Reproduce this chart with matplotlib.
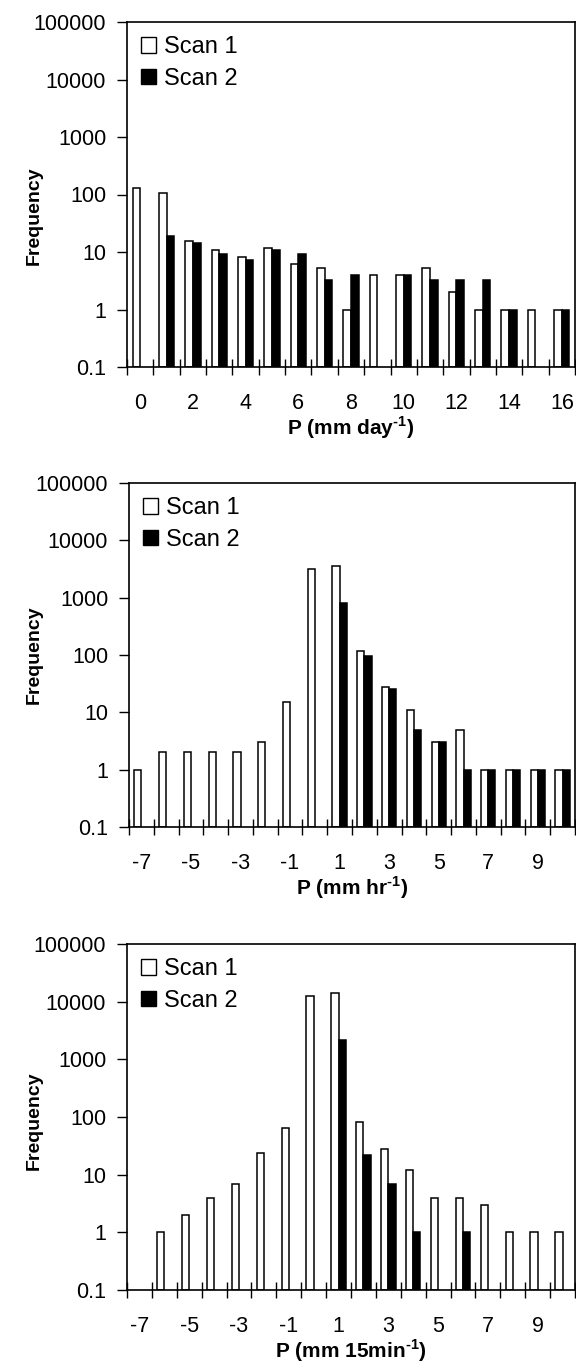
"""
Histograms of rain-rate differences for two scans, three accumulation periods.
Log-scale frequency, Excel-style category axis.
"""
import numpy as np
import matplotlib
matplotlib.use("Agg")
import matplotlib.pyplot as plt
from matplotlib.patches import Patch

plt.rcParams["font.family"] = ["Liberation Sans", "DejaVu Sans"]
plt.rcParams["mathtext.fontset"] = "custom"
plt.rcParams["mathtext.rm"] = "Liberation Sans:bold"
plt.rcParams["mathtext.bf"] = "Liberation Sans:bold"

# panel 1: daily
DAY_CATS = list(range(0, 17))
DAY_SCAN1 = [130, 107, 15.4, 11, 8.2, 11.6, 6.1, 5.3, 1, 4, 4, 5.3, 2, 1, 1, 1, 1]
DAY_SCAN2 = [0, 19, 14.5, 9.4, 7.2, 11, 9.4, 3.2, 4, 0, 4, 3.2, 3.2, 3.2, 1, 0, 1]
DAY_LABELS = ["0", "2", "4", "6", "8", "10", "12", "14", "16"]

# panel 2: hourly
HR_CATS = list(range(-7, 11))
HR_SCAN1 = [1, 2, 2, 2, 2, 3, 15.4, 3180, 3630, 117, 28, 10.8, 3, 5, 1, 1, 1, 1]
HR_SCAN2 = [0, 0, 0, 0, 0, 0, 0, 0, 820, 95, 26, 5, 3, 1, 1, 1, 1, 1]
HR_LABELS = ["-7", "-5", "-3", "-1", "1", "3", "5", "7", "9"]

# panel 3: 15 min
MIN_CATS = list(range(-7, 11))
MIN_SCAN1 = [0, 1, 2, 4, 7, 23.5, 65, 12400, 14200, 81, 27.6, 12, 4, 4, 3, 1, 1, 1]
MIN_SCAN2 = [0, 0, 0, 0, 0, 0, 0, 0, 2130, 22, 7, 1, 0, 1, 0, 0, 0, 0]
MIN_LABELS = ["-7", "-5", "-3", "-1", "1", "3", "5", "7", "9"]

YTICKS = [0.1, 1, 10, 100, 1000, 10000, 100000]
BASE = 0.1
W = 0.29
FIG_W, FIG_H = 576, 1369


def panel(fig, rect_px, cats, s1, s2, labels, xlabel, ylab_y):
    l, t, r, b = rect_px
    ax = fig.add_axes([l / FIG_W, 1 - b / FIG_H, (r - l) / FIG_W, (b - t) / FIG_H])
    x = np.arange(len(cats))
    s1 = np.array(s1, dtype=float)
    s2 = np.array(s2, dtype=float)
    m1 = s1 > 0
    m2 = s2 > 0
    ax.bar(x[m1] - W / 2, s1[m1] - BASE, width=W, bottom=BASE, color="white",
           edgecolor="black", linewidth=1.1)
    ax.bar(x[m2] + W / 2, s2[m2] - BASE, width=W, bottom=BASE, color="black",
           edgecolor="black", linewidth=1.1)
    ax.set_yscale("log")
    ax.set_ylim(BASE, 100000)
    ax.set_xlim(-0.5, len(cats) - 0.5)
    ax.set_yticks(YTICKS)
    ax.set_yticklabels([f"{v:g}" for v in YTICKS])
    ax.yaxis.set_minor_locator(matplotlib.ticker.NullLocator())
    # ticks between categories, labels on every other category
    ax.set_xticks(np.arange(len(cats) + 1) - 0.5)
    ax.set_xticklabels([])
    ax.set_xticks(np.arange(0, len(cats), 2), minor=True)
    ax.set_xticklabels(labels, minor=True)
    ax.tick_params(axis="x", which="major", direction="inout", length=12, width=1)
    ax.tick_params(axis="x", which="minor", length=0, labelsize=15.5, pad=19)
    ax.tick_params(axis="y", direction="out", length=7, width=1, labelsize=15.5, pad=8)
    for sp in ax.spines.values():
        sp.set_linewidth(1.2)
    ax.set_ylabel("Frequency", fontsize=14, fontweight="bold")
    ax.yaxis.set_label_coords((43 - l) / (r - l), ylab_y)
    ax.set_xlabel(xlabel, fontsize=15, fontweight="bold", labelpad=0)
    handles = [Patch(facecolor="white", edgecolor="black", linewidth=1),
               Patch(facecolor="black", edgecolor="black", linewidth=1)]
    ax.legend(handles, ["Scan 1", "Scan 2"], loc="upper left",
              bbox_to_anchor=(0.0, 1.0), frameon=False, fontsize=17,
              handlelength=0.62, handleheight=0.62, handletextpad=0.35,
              labelspacing=0.42, borderaxespad=0.2, borderpad=0.4)
    return ax


fig = plt.figure(figsize=(FIG_W / 100, FIG_H / 100), dpi=100)
panel(fig, (127, 22, 575, 367), DAY_CATS, DAY_SCAN1, DAY_SCAN2, DAY_LABELS,
      r"P (mm day$^{\text{-1}}$)", 0.44)
panel(fig, (129, 483, 575, 827), HR_CATS, HR_SCAN1, HR_SCAN2, HR_LABELS,
      r"P (mm hr$^{\text{-1}}$)", 0.5)
panel(fig, (127, 944, 575, 1290), MIN_CATS, MIN_SCAN1, MIN_SCAN2, MIN_LABELS,
      r"P (mm 15min$^{\text{-1}}$)", 0.49)
fig.savefig("out.png", dpi=100)
